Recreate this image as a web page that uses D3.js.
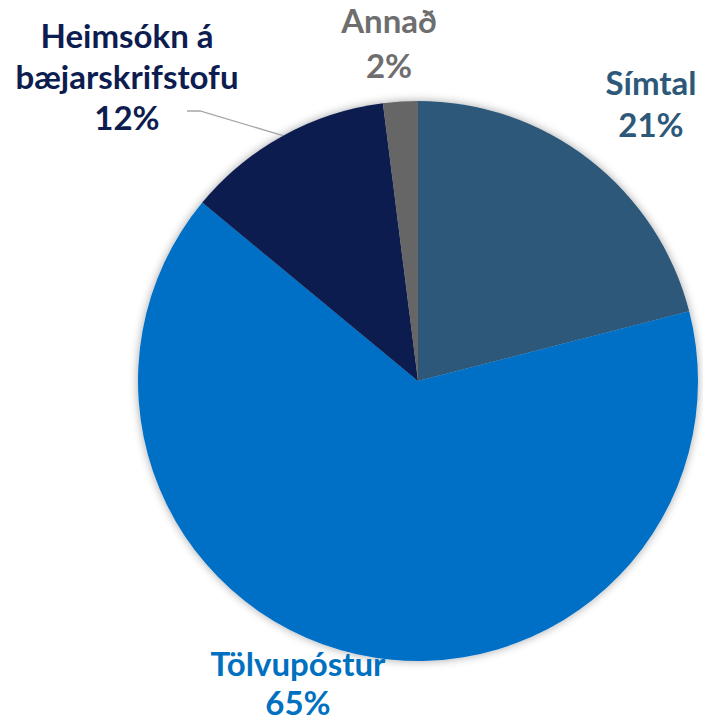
<!DOCTYPE html>
<html>
<head>
<meta charset="utf-8">
<script src="https://d3js.org/d3.v7.min.js"></script>
<style>
  body { margin: 0; background: #fff; }
  text { font-family: Lato, "Open Sans", sans-serif; font-weight: bold; }
</style>
</head>
<body>
<div id="plot"></div>
<script>
// slices clockwise from 12 o'clock
var categories = ['Símtal', 'Tölvupóstur', 'Heimsókn á bæjarskrifstofu', 'Annað']
var values = [21, 65, 12, 2]
var labelLines = [['Símtal', '21%'], ['Tölvupóstur', '65%'], ['Heimsókn á', 'bæjarskrifstofu', '12%'], ['Annað', '2%']]
var colors = ['#2D5879', '#0070C6', '#0E1D50', '#666666']
var labelColors = ['#2D5879', '#0070C0', '#0E1D50', '#6E6E6E']

var width = 703, height = 724
var cx = 418, cy = 381, radius = 280

var svg = d3.select('#plot').append('svg')
    .attr('width', width)
    .attr('height', height)

var defs = svg.append('defs')
var filt = defs.append('filter').attr('id', 'shadow')
    .attr('x', '-10%').attr('y', '-10%').attr('width', '120%').attr('height', '120%')
filt.append('feGaussianBlur').attr('in', 'SourceAlpha').attr('stdDeviation', 5)
filt.append('feComponentTransfer').append('feFuncA').attr('type', 'linear').attr('slope', 0.35)
var merge = filt.append('feMerge')
merge.append('feMergeNode')
merge.append('feMergeNode').attr('in', 'SourceGraphic')

var pie = d3.pie().sort(null).value(function(d){ return d })
var arc = d3.arc().innerRadius(0).outerRadius(radius)
var arcs = pie(values)

var g = svg.append('g')
    .attr('transform', 'translate(' + cx + ',' + cy + ')')

g.append('g').attr('filter', 'url(#shadow)')
  .selectAll('path')
  .data(arcs)
  .enter()
  .append('path')
    .attr('d', arc)
    .attr('fill', function(d, i){ return colors[i] })

// label anchor points (center x, first baseline) and line spacing
var labelPos = [[651, 95], [298, 676], [127, 48], [389, 33]]
var lineGap = [42, 39, 41, 45]

// leader line from the left label to the middle of its slice
var hs = arcs[2]
var mid = (hs.startAngle + hs.endAngle) / 2
var edge = [cx + radius * Math.sin(mid), cy - radius * Math.cos(mid)]
svg.append('polyline')
    .attr('points', [[187, 111], [200, 111], edge].map(function(p){ return p.join(',') }).join(' '))
    .attr('fill', 'none')
    .attr('stroke', '#A6A6A6')
    .attr('stroke-width', 1.3)

labelLines.forEach(function(lines, i){
  var t = svg.append('text')
      .attr('text-anchor', 'middle')
      .attr('fill', labelColors[i])
      .style('font-size', '33px')
  lines.forEach(function(s, j){
    t.append('tspan')
      .attr('x', labelPos[i][0])
      .attr('y', labelPos[i][1] + j * lineGap[i])
      .text(s)
  })
})
</script>
</body>
</html>
